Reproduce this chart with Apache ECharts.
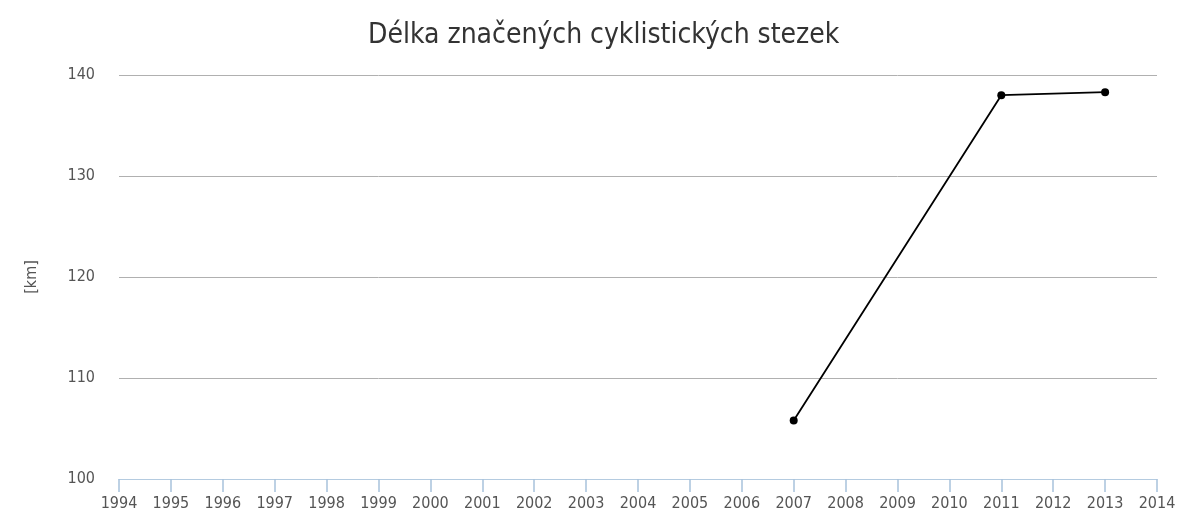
<!DOCTYPE html>
<html><head><meta charset="utf-8">
<script src="https://cdn.jsdelivr.net/npm/echarts@6/dist/echarts.min.js"></script>
<style>html,body{margin:0;padding:0;background:#fff}#c{width:1179px;height:513px}</style>
</head><body><div id="c"></div>
<script>
const title = 'Délka značených cyklistických stezek';
const years = ['1994','1995','1996','1997','1998','1999','2000','2001','2002','2003','2004','2005','2006','2007','2008','2009','2010','2011','2012','2013','2014'];
const lengthKm = [null,null,null,null,null,null,null,null,null,null,null,null,null,105.8,null,null,null,138.0,null,138.3,null];
const yName = '[km]';

const FONT = 'DejaVu Sans Condensed, DejaVu Sans';
const chart = echarts.init(document.getElementById('c'));
chart.setOption({
  animation: false,
  title: {text: title, left: 363, top: 17, textStyle: {fontFamily: FONT, fontSize: 28, fontWeight: 'normal', color: '#333'}},
  grid: {left: 119, right: 22, top: 75, bottom: 34},
  xAxis: {type: 'category', data: years, boundaryGap: false,
    axisLine: {lineStyle: {color: '#b4cbe0', width: 1}},
    axisTick: {show: true, length: 13, alignWithLabel: true, lineStyle: {color: '#a8c2dc', width: 1.5}},
    axisLabel: {color: '#555', fontSize: 16, fontFamily: FONT, margin: 17, interval: 0},
    splitLine: {show: false}},
  yAxis: {type: 'value', min: 100, max: 140, interval: 10, name: yName, nameLocation: 'middle', nameGap: 79, nameRotate: 90,
    nameTextStyle: {color: '#555', fontSize: 16, fontFamily: FONT},
    axisLine: {show: false}, axisTick: {show: false},
    axisLabel: {color: '#555', fontSize: 16, fontFamily: FONT, margin: 24},
    splitLine: {lineStyle: {color: '#b0b0b0', width: 1}}},
  series: [{type: 'line', data: lengthKm, connectNulls: true, symbol: 'circle', symbolSize: 8,
    itemStyle: {color: '#000'}, lineStyle: {color: '#000', width: 1.8}}]
});
</script></body></html>
